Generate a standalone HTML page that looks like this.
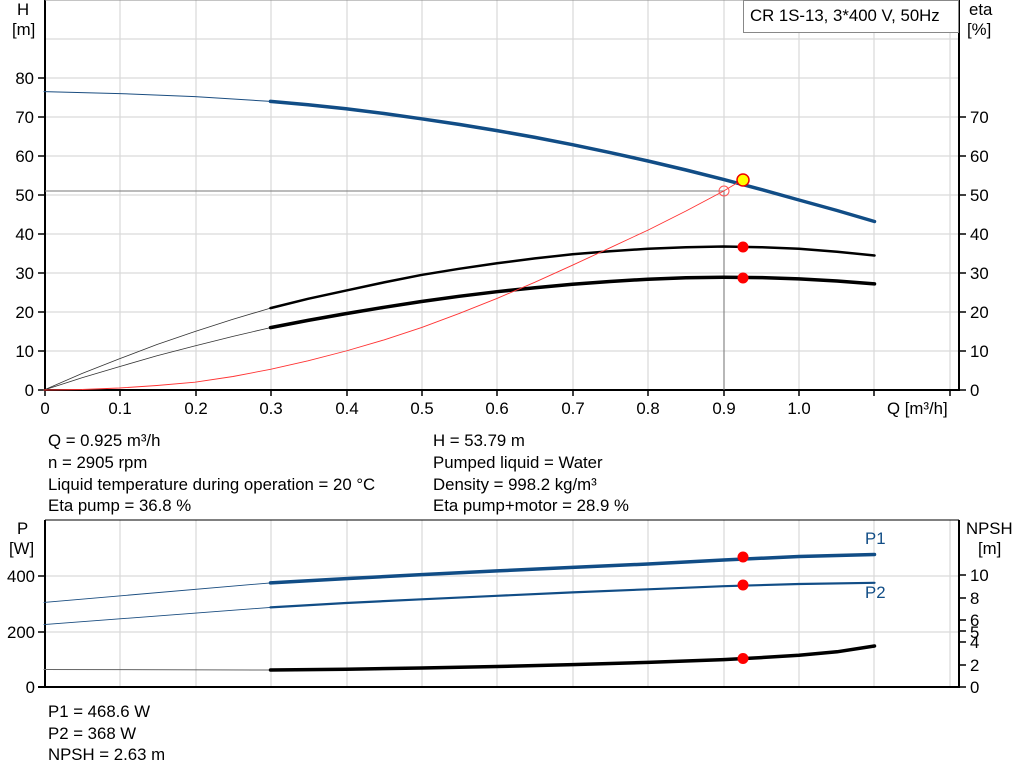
<!DOCTYPE html>
<html><head><meta charset="utf-8"><style>
body{margin:0;background:#fff;}
svg{display:block;font-family:"Liberation Sans",Arial,sans-serif;}
text{font-size:16.8px;fill:#000;}
polyline{stroke-linejoin:round;stroke-linecap:round;}
</style></head><body>
<svg width="1024" height="781" viewBox="0 0 1024 781" xmlns="http://www.w3.org/2000/svg">
<g stroke="#d9d9d9" stroke-width="1.2">
<line x1="120" y1="0" x2="120" y2="390"/><line x1="196" y1="0" x2="196" y2="390"/><line x1="271" y1="0" x2="271" y2="390"/><line x1="347" y1="0" x2="347" y2="390"/><line x1="422" y1="0" x2="422" y2="390"/><line x1="497" y1="0" x2="497" y2="390"/><line x1="573" y1="0" x2="573" y2="390"/><line x1="648" y1="0" x2="648" y2="390"/><line x1="724" y1="0" x2="724" y2="390"/><line x1="799" y1="0" x2="799" y2="390"/><line x1="874" y1="0" x2="874" y2="390"/><line x1="950" y1="0" x2="950" y2="390"/>
<line x1="45" y1="39" x2="959" y2="39"/><line x1="45" y1="78" x2="959" y2="78"/><line x1="45" y1="117" x2="959" y2="117"/><line x1="45" y1="156" x2="959" y2="156"/><line x1="45" y1="195" x2="959" y2="195"/><line x1="45" y1="234" x2="959" y2="234"/><line x1="45" y1="273" x2="959" y2="273"/><line x1="45" y1="312" x2="959" y2="312"/><line x1="45" y1="351" x2="959" y2="351"/>
</g>
<g stroke="#000" stroke-width="2">
<line x1="45" y1="0" x2="45" y2="391"/><line x1="44" y1="390" x2="959" y2="390"/><line x1="959" y1="0" x2="959" y2="391"/>
<line x1="45" y1="0" x2="959" y2="0" stroke-width="1" stroke="#888"/>
</g>
<g stroke="#000" stroke-width="1.5">
<line x1="38" y1="78" x2="45" y2="78"/><line x1="38" y1="117" x2="45" y2="117"/><line x1="38" y1="156" x2="45" y2="156"/><line x1="38" y1="195" x2="45" y2="195"/><line x1="38" y1="234" x2="45" y2="234"/><line x1="38" y1="273" x2="45" y2="273"/><line x1="38" y1="312" x2="45" y2="312"/><line x1="38" y1="351" x2="45" y2="351"/><line x1="38" y1="390" x2="45" y2="390"/>
<line x1="959" y1="117" x2="966" y2="117"/><line x1="959" y1="156" x2="966" y2="156"/><line x1="959" y1="195" x2="966" y2="195"/><line x1="959" y1="234" x2="966" y2="234"/><line x1="959" y1="273" x2="966" y2="273"/><line x1="959" y1="312" x2="966" y2="312"/><line x1="959" y1="351" x2="966" y2="351"/><line x1="959" y1="390" x2="966" y2="390"/>
<line x1="45" y1="390" x2="45" y2="396"/><line x1="120" y1="390" x2="120" y2="396"/><line x1="196" y1="390" x2="196" y2="396"/><line x1="271" y1="390" x2="271" y2="396"/><line x1="347" y1="390" x2="347" y2="396"/><line x1="422" y1="390" x2="422" y2="396"/><line x1="497" y1="390" x2="497" y2="396"/><line x1="573" y1="390" x2="573" y2="396"/><line x1="648" y1="390" x2="648" y2="396"/><line x1="724" y1="390" x2="724" y2="396"/><line x1="799" y1="390" x2="799" y2="396"/><line x1="874" y1="390" x2="874" y2="396"/><line x1="950" y1="390" x2="950" y2="396"/>
</g>
<g text-anchor="end">
<text x="34" y="84">80</text><text x="34" y="123">70</text><text x="34" y="162">60</text><text x="34" y="201">50</text><text x="34" y="240">40</text><text x="34" y="279">30</text><text x="34" y="318">20</text><text x="34" y="357">10</text><text x="34" y="396">0</text>
</g>
<text x="17" y="15">H</text><text x="12" y="35">[m]</text>
<text x="969" y="15">eta</text><text x="967" y="35">[%]</text>
<g>
<text x="970" y="123">70</text><text x="970" y="162">60</text><text x="970" y="201">50</text><text x="970" y="240">40</text><text x="970" y="279">30</text><text x="970" y="318">20</text><text x="970" y="357">10</text><text x="970" y="396">0</text>
</g>
<g text-anchor="middle">
<text x="45" y="414">0</text><text x="120" y="414">0.1</text><text x="196" y="414">0.2</text><text x="271" y="414">0.3</text><text x="347" y="414">0.4</text><text x="422" y="414">0.5</text><text x="497" y="414">0.6</text><text x="573" y="414">0.7</text><text x="648" y="414">0.8</text><text x="724" y="414">0.9</text><text x="799" y="414">1.0</text>
</g>
<text x="887" y="414">Q [m³/h]</text>
<rect x="743.5" y="0.5" width="215" height="32" fill="#fff" stroke="#888"/>
<text x="750" y="21">CR 1S-13, 3*400 V, 50Hz</text>
<line x1="45" y1="191" x2="724" y2="191" stroke="#777" stroke-width="1"/>
<line x1="724" y1="191" x2="724" y2="390" stroke="#777" stroke-width="1"/>
<polyline fill="none" stroke="#1a4d80" stroke-width="1" points="44,91.6 120,93.6 195,96.6 270.5,101.4"/>
<polyline fill="none" stroke="#114d86" stroke-width="3.5" points="270.5,101.4 308,104.7 346,108.8 384,113.5 421.5,118.8 459,124.4 497,130.6 535,137.4 572.5,144.7 610,152.6 648,161 686,170 723.5,179.4 761,189.4 799,200 837,210.5 874.5,221.5"/>
<polyline fill="none" stroke="#333" stroke-width="0.8" points="44,390 82,373.5 119.5,358.8 157,344.5 195,331.5 233,319.3 270.5,308.1"/>
<polyline fill="none" stroke="#000" stroke-width="2.5" points="270.5,308.1 308,298.8 346,290.55 384,282.4 421.5,274.95 459,268.8 497,263.25 535,258.4 572.5,254.3 610,251.2 648,248.8 686,247.2 723.5,246.5 761,247.2 799,248.8 837,251.7 874.5,255.5"/>
<polyline fill="none" stroke="#333" stroke-width="0.8" points="44,390 82,377.8 119.5,366.6 157,355.8 195,345.9 233,336.4 270.5,327.6"/>
<polyline fill="none" stroke="#000" stroke-width="3.5" points="270.5,327.6 308,320.4 346,313.6 384,307.3 421.5,301.5 459,296.3 497,291.7 535,287.7 572.5,284.3 610,281.5 648,279.2 686,277.8 723.5,277.3 761,277.6 799,278.9 837,281 874.5,283.9"/>
<polyline fill="none" stroke="#f33" stroke-width="0.9" points="44,390 82,389.5 119.5,388 157,385.5 195,382.2 233,376.5 270.5,369.3 308,360.8 346,351 384,339.9 421.5,327.6 459,313.6 497,298.4 535,282.2 572.5,265.2 610,247.8 648,230.1 686,211 723.5,191.1 742,180"/>
<circle cx="724" cy="191" r="5" fill="none" stroke="#f55" stroke-width="1"/>
<circle cx="743" cy="180" r="6" fill="#ff0" stroke="#e00" stroke-width="1.5"/>
<circle cx="743" cy="247" r="5.5" fill="#f00"/>
<circle cx="743" cy="278" r="5.5" fill="#f00"/>
<text x="48" y="446">Q = 0.925 m³/h</text><text x="48" y="468">n = 2905 rpm</text><text x="48" y="490">Liquid temperature during operation = 20 °C</text><text x="48" y="511">Eta pump = 36.8 %</text>
<text x="433" y="446">H = 53.79 m</text><text x="433" y="468">Pumped liquid = Water</text><text x="433" y="490">Density = 998.2 kg/m³</text><text x="433" y="511">Eta pump+motor = 28.9 %</text>
<g stroke="#d9d9d9" stroke-width="1.2">
<line x1="120" y1="520" x2="120" y2="687"/><line x1="196" y1="520" x2="196" y2="687"/><line x1="271" y1="520" x2="271" y2="687"/><line x1="347" y1="520" x2="347" y2="687"/><line x1="422" y1="520" x2="422" y2="687"/><line x1="497" y1="520" x2="497" y2="687"/><line x1="573" y1="520" x2="573" y2="687"/><line x1="648" y1="520" x2="648" y2="687"/><line x1="724" y1="520" x2="724" y2="687"/><line x1="799" y1="520" x2="799" y2="687"/><line x1="874" y1="520" x2="874" y2="687"/><line x1="950" y1="520" x2="950" y2="687"/>
<line x1="45" y1="576" x2="959" y2="576"/><line x1="45" y1="632" x2="959" y2="632"/>
</g>
<g stroke="#000" stroke-width="2">
<line x1="45" y1="520" x2="45" y2="688"/><line x1="38" y1="687" x2="959" y2="687"/><line x1="959" y1="520" x2="959" y2="688"/>
<line x1="45" y1="520" x2="959" y2="520" stroke-width="1"/>
</g>
<g stroke="#000" stroke-width="1.5">
<line x1="38" y1="576" x2="45" y2="576"/><line x1="38" y1="632" x2="45" y2="632"/>
<line x1="959" y1="575" x2="966" y2="575"/><line x1="959" y1="598" x2="966" y2="598"/><line x1="959" y1="620" x2="966" y2="620"/><line x1="959" y1="631" x2="966" y2="631"/><line x1="959" y1="642" x2="966" y2="642"/><line x1="959" y1="665" x2="966" y2="665"/><line x1="959" y1="687" x2="966" y2="687"/>
</g>
<text x="17" y="534">P</text><text x="9" y="554">[W]</text>
<g text-anchor="end"><text x="35" y="582">400</text><text x="35" y="638">200</text><text x="35" y="693">0</text></g>
<text x="966" y="534">NPSH</text><text x="978" y="554">[m]</text>
<text x="970" y="581">10</text><text x="970" y="604">8</text><text x="970" y="626">6</text><text x="970" y="638">5</text><text x="970" y="648">4</text><text x="970" y="671">2</text><text x="970" y="693">0</text>
<polyline fill="none" stroke="#1a4d80" stroke-width="0.9" points="44,602.4 270.5,582.9"/>
<polyline fill="none" stroke="#114d86" stroke-width="3.5" points="270.5,582.9 346,578.6 421.5,574.6 497,570.9 572.5,567.4 648,564 723.5,560 799,556.5 874.5,554.5"/>
<polyline fill="none" stroke="#1a4d80" stroke-width="0.9" points="44,624.6 270.5,607.4"/>
<polyline fill="none" stroke="#114d86" stroke-width="2.2" points="270.5,607.4 346,603 421.5,599.3 497,595.8 572.5,592.4 648,589.3 723.5,586.2 799,584 874.5,582.8"/>
<polyline fill="none" stroke="#666" stroke-width="1" points="44,669.5 270.5,670"/>
<polyline fill="none" stroke="#000" stroke-width="3.5" points="270.5,670 346,669.2 421.5,668 497,666.5 572.5,664.6 648,662.4 723.5,659.6 761,657.6 799,655.2 837,651.8 874.5,646"/>
<circle cx="743" cy="557" r="5.5" fill="#f00"/>
<circle cx="743" cy="585" r="5.5" fill="#f00"/>
<circle cx="743" cy="658.5" r="5.5" fill="#f00"/>
<text x="865" y="544" style="fill:#114d86">P1</text>
<text x="865" y="598" style="fill:#114d86">P2</text>
<text x="48" y="717">P1 = 468.6 W</text><text x="48" y="739">P2 = 368 W</text><text x="48" y="760">NPSH = 2.63 m</text>
</svg>
</body></html>
